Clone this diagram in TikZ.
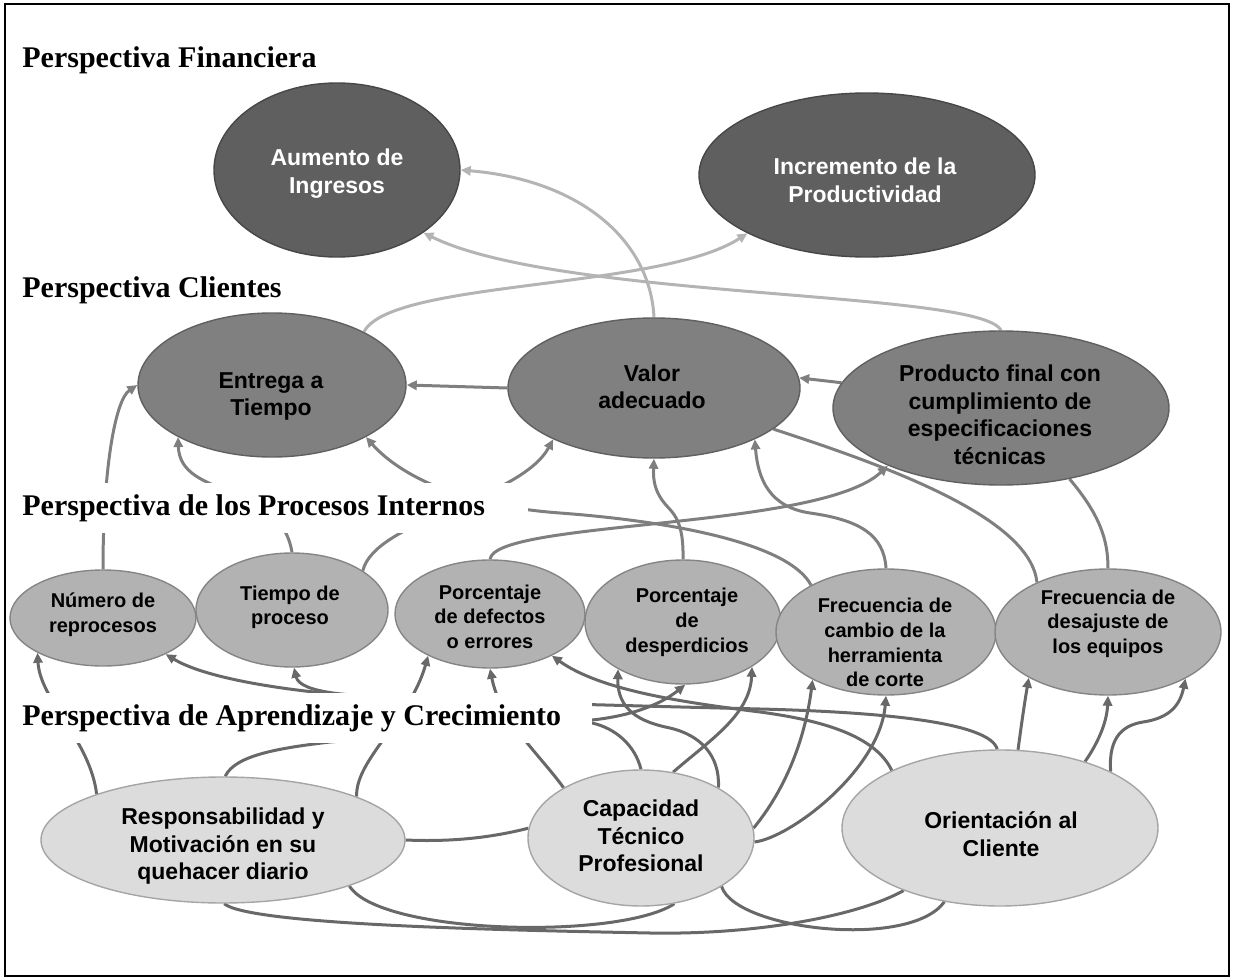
\documentclass[tikz,border=0pt]{standalone}
\usepackage{fontspec}
\setmainfont{Liberation Serif}
\newfontfamily\labelfont{Liberation Sans}
\usetikzlibrary{shapes.geometric,arrows.meta}

\definecolor{finc}{HTML}{5F5F5F}
\definecolor{clic}{HTML}{808080}
\definecolor{proc}{HTML}{B2B2B2}
\definecolor{aprc}{HTML}{DCDCDC}
\definecolor{litec}{HTML}{B4B4B4}
\definecolor{midc}{HTML}{7F7F7F}
\definecolor{darkc}{HTML}{686868}

\pgfdeclarelayer{links}
\pgfsetlayers{links,main}

\tikzset{
  ell/.style={ellipse, inner sep=0pt, line width=0.7pt},
  finell/.style={ell, fill=finc, draw=finc!75!black},
  cliell/.style={ell, fill=clic, draw=clic!75!black},
  proell/.style={ell, fill=proc, draw=proc!75!black},
  aprell/.style={ell, fill=aprc, draw=aprc!75!black},
  bigtxt/.style={align=center, inner sep=0pt, font=\labelfont\bfseries\fontsize{11.5}{13.75}\selectfont},
  smalltxt/.style={align=center, inner sep=0pt, font=\labelfont\bfseries\fontsize{10}{12.3}\selectfont},
  headtxt/.style={fill=white, inner sep=0pt, font=\bfseries\fontsize{15}{18}\selectfont},
  headband/.style={headtxt, minimum height=25pt, anchor=north west, inner xsep=7.5pt},
  conn/.style={line width=1.5pt},
  liteline/.style={conn, draw=litec},
  midline/.style={conn, draw=midc},
  darkline/.style={conn, draw=darkc},
  arr/.style={-{Triangle[length=5pt,width=4.6pt]}}
}

\begin{document}
\begin{tikzpicture}[x=0.5pt,y=-0.5pt]
\useasboundingbox (0,0) rectangle (1233,979);

% ---------- objectives ----------
% financial
\node[finell, minimum width=123pt, minimum height=87pt] (aum) at (337,170) {};
\node[finell, minimum width=168pt, minimum height=82pt] (inc) at (867,175) {};
% customers
\node[cliell, minimum width=134pt, minimum height=72pt] (ent) at (272,385) {};
\node[cliell, minimum width=146pt, minimum height=70pt] (val) at (654,388) {};
\node[cliell, minimum width=168pt, minimum height=77pt] (pro) at (1001,408) {};
% internal processes
\node[proell, minimum width=93pt,  minimum height=48pt] (num) at (103,618) {};
\node[proell, minimum width=96pt,  minimum height=57pt] (tie) at (292,610) {};
\node[proell, minimum width=95pt,  minimum height=54pt] (def) at (490,614) {};
\node[proell, minimum width=98pt,  minimum height=62pt] (des) at (683,622) {};
\node[proell, minimum width=110pt, minimum height=63pt] (fre) at (886,632) {};
\node[proell, minimum width=113pt, minimum height=63pt] (dsj) at (1108,632) {};
% learning and growth
\node[aprell, minimum width=182pt, minimum height=63pt] (res) at (223,840) {};
\node[aprell, minimum width=113pt, minimum height=68pt] (cap) at (641,838) {};
\node[aprell, minimum width=158pt, minimum height=78pt] (ori) at (1000,828) {};

% ---------- labels ----------
\node[bigtxt, text=white] (aum-t) at (337,173.5) {Aumento de\\Ingresos};
\node[bigtxt, text=white] (inc-t) at (865,180.5) {Incremento de la\\Productividad};
\node[bigtxt] (ent-t) at (271,396.5) {Entrega a\\Tiempo};
\node[bigtxt] (val-t) at (652,386.6) {Valor\\adecuado};
\node[bigtxt] (pro-t) at (1000,415) {Producto final con\\cumplimiento de\\especificaciones\\técnicas};
\node[smalltxt] (num-t) at (103,614.8) {Número de\\reprocesos};
\node[smalltxt] (tie-t) at (290,607.3) {Tiempo de\\proceso};
\node[smalltxt] (def-t) at (490,616.7) {Porcentaje\\de defectos\\o errores};
\node[smalltxt] (des-t) at (687,622.3) {Porcentaje\\de\\desperdicios};
\node[smalltxt] (fre-t) at (885,642.7) {Frecuencia de\\cambio de la\\herramienta\\de corte};
\node[smalltxt] (dsj-t) at (1108,623.8) {Frecuencia de\\desajuste de\\los equipos};
\node[bigtxt] (res-t) at (223,846.5) {Responsabilidad y\\Motivación en su\\quehacer diario};
\node[bigtxt] (cap-t) at (641,836) {Capacidad\\Técnico\\Profesional};
\node[bigtxt] (ori-t) at (1001,834) {Orientación al\\Cliente};

% ---------- perspective headings ----------
\node[headtxt, anchor=base west] (hfin) at (22,68) {Perspectiva Financiera};
\node[headtxt, anchor=base west] (hcli) at (22,297) {Perspectiva Clientes};
\node[headband] (hpro) at (7,483) {\makebox[245.5pt][l]{Perspectiva de los Procesos Internos}};
\node[headband] (hapr) at (7,693) {\makebox[277.5pt][l]{Perspectiva de Aprendizaje y Crecimiento}};

% ---------- frame ----------
\draw[line width=1pt] (5,4) rectangle (1228.5,975.5);

% ---------- cause-effect links ----------
\begin{pgfonlayer}{links}
% customers -> financial
\draw[liteline, arr] (val.north) .. controls (650,240) and (580,180) .. (aum.east);
\draw[liteline, arr] (pro.north) .. controls (980,290) and (560,300) .. (aum.-36);
\draw[liteline, arr] (ent.30) .. controls (390,280) and (660,290) .. (inc.206);

% within customers
\draw[midline, arr] (val.west) -- (ent.east);
\draw[midline, arr] (pro.171) -- (val.4);

% processes -> customers
\draw[midline, arr] (num.north) .. controls (103,470) and (115,400) .. (ent.west);
\draw[midline, arr] (tie.north) .. controls (280,480) and (180,500) .. (ent.209);
\draw[midline, arr] (tie.29) .. controls (375,520) and (520,500) .. (val.207);
\draw[midline, arr] (fre.148) .. controls (790,545) and (680,522) .. (560,513)
                              .. controls (450,505) and (395,470) .. (ent.-29);
\draw[midline, arr] (def.north) .. controls (495,520) and (820,530) .. (pro.207);
\draw[midline, arr] (des.north) .. controls (684,515) and (670,512) .. (662,500)
                                .. controls (655,490) and (653,480) .. (val.south);
\draw[midline, arr] (fre.north) .. controls (884,535) and (860,520) .. (810,513)
                                .. controls (770,507) and (758,480) .. (val.-27);
\draw[midline] (val.-19) .. controls (900,470) and (1030,520) .. (dsj.145);
\draw[midline] (pro.-46) .. controls (1100,515) and (1108,540) .. (dsj.north);

% learning and growth -> processes
\draw[darkline, arr] (res.160) .. controls (90,740) and (40,700) .. (num.208);
\draw[darkline, arr] (res.88) .. controls (235,755) and (280,748) .. (330,742)
                              .. controls (450,732) and (560,724) .. (592,720)
                              .. controls (630,716) and (660,705) .. (des.-88);
\draw[darkline, arr] (res.18) .. controls (355,760) and (410,720) .. (def.214);
\draw[darkline, arr] (cap.147) .. controls (540,755) and (500,720) .. (def.south);
\draw[darkline, arr] (ori.92) .. controls (990,722) and (880,712) .. (760,709)
                              .. controls (600,705) and (400,700) .. (333,694)
                              .. controls (260,687) and (200,675) .. (num.-30);
\draw[darkline, arr] (cap.north) .. controls (635,745) and (615,728) .. (592,723)
                                 .. controls (500,705) and (360,697) .. (333,693)
                                 .. controls (312,690) and (298,685) .. (tie.-88);
\draw[darkline, arr] (ori.152) .. controls (875,735) and (820,720) .. (760,712)
                               .. controls (680,702) and (600,690) .. (def.-34);
\draw[darkline, arr] (cap.33) .. controls (720,755) and (700,735) .. (670,728)
                              .. controls (640,722) and (617,710) .. (des.216);
\draw[darkline, arr] (cap.64) .. controls (710,740) and (750,715) .. (des.-33);
\draw[darkline, arr] (cap.-2) .. controls (790,838) and (880,770) .. (fre.south);
\draw[darkline, arr] (cap.5) .. controls (785,790) and (805,740) .. (fre.213);
\draw[darkline, arr] (ori.77) .. controls (1022,720) and (1025,700) .. (dsj.210);
\draw[darkline, arr] (ori.38) .. controls (1100,740) and (1107,720) .. (dsj.south);
\draw[darkline, arr] (ori.27) .. controls (1108,735) and (1125,725) .. (1143,722)
                              .. controls (1170,718) and (1180,705) .. (dsj.-31);

% within learning and growth
\draw[darkline] (res.east) .. controls (450,842) and (490,838) .. (cap.175);
\draw[darkline] (res.-20) .. controls (380,935) and (620,940) .. (cap.-63);
\draw[darkline] (res.-89) .. controls (250,925) and (500,930) .. (650,933)
                          .. controls (760,935) and (860,915) .. (ori.213);
\draw[darkline] (cap.-31) .. controls (735,930) and (910,950) .. (ori.233);
\end{pgfonlayer}
\end{tikzpicture}
\end{document}
